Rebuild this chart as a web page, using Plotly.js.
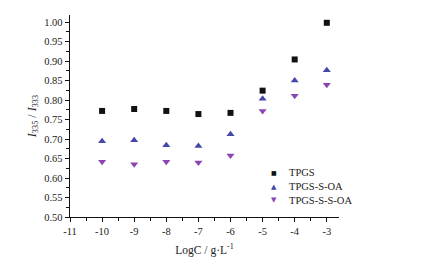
<!DOCTYPE html>
<html><head><meta charset="utf-8">
<script src="https://cdn.plot.ly/plotly-3.0.1.min.js"></script>
<style>html,body{margin:0;padding:0;background:#fff}#chart{width:429px;height:261px}</style>
</head><body><div id="chart"></div>
<script>
const logC = [-10, -9, -8, -7, -6, -5, -4, -3];
const tpgs = [0.772, 0.777, 0.772, 0.764, 0.767, 0.824, 0.904, 0.998];
const tpgsSOA = [0.694, 0.697, 0.684, 0.682, 0.712, 0.803, 0.850, 0.876];
const tpgsSSOA = [0.642, 0.635, 0.642, 0.640, 0.658, 0.772, 0.811, 0.839];
const names = ['TPGS', 'TPGS-S-OA', 'TPGS-S-S-OA'];
const xTicks = [-11, -10, -9, -8, -7, -6, -5, -4, -3];
const yTicks = [0.50, 0.55, 0.60, 0.65, 0.70, 0.75, 0.80, 0.85, 0.90, 0.95, 1.00];

const colors = ['#111', '#4446a8', '#8a44b4'];
const glyphs = ['■', '▲', '▼'];
const serif = '"Liberation Serif", "Times New Roman", serif';
const font = {family: serif, color: '#222', size: 10.5};
const traces = [
  {x: logC, y: tpgs, name: names[0], mode: 'markers', type: 'scatter',
   marker: {symbol: 'square', size: 6, color: colors[0]}},
  {x: logC, y: tpgsSOA, name: names[1], mode: 'markers', type: 'scatter',
   marker: {symbol: 'triangle-up', size: 7, color: colors[1]}},
  {x: logC, y: tpgsSSOA, name: names[2], mode: 'markers', type: 'scatter',
   marker: {symbol: 'triangle-down', size: 7, color: colors[2]}}
];
const legY = [0.218, 0.150, 0.084];
const annotations = [];
names.forEach((n, i) => {
  annotations.push({xref: 'paper', yref: 'paper', x: 0.758, y: legY[i], xanchor: 'center', yanchor: 'middle',
    text: glyphs[i], showarrow: false, font: {family: 'DejaVu Sans', size: i === 0 ? 6 : 7, color: colors[i]}});
  annotations.push({xref: 'paper', yref: 'paper', x: 0.808, y: legY[i], xanchor: 'left', yanchor: 'middle',
    text: n, showarrow: false, font: {family: serif, size: 10.5, color: '#222'}});
});
const layout = {
  width: 429, height: 261,
  margin: {l: 70, r: 90, t: 15, b: 44},
  paper_bgcolor: '#fff', plot_bgcolor: '#fff',
  font: font,
  showlegend: false,
  annotations: annotations,
  xaxis: {
    range: [-11, -2.62], tickvals: xTicks, ticktext: xTicks.map(String),
    showgrid: false, zeroline: false, showline: true, linecolor: '#111', linewidth: 1.3,
    ticks: 'outside', ticklen: 4, tickcolor: '#111',
    minor: {dtick: 0.5, tick0: -11, ticks: 'outside', ticklen: 2.5, tickcolor: '#111'},
    tickfont: {family: serif, size: 10.5, color: '#222'},
    title: {text: 'LogC / g·L<sup>-1</sup>', font: {family: serif, size: 11.5, color: '#222'}, standoff: 10}
  },
  yaxis: {
    range: [0.5, 1.018], tickvals: yTicks, ticktext: yTicks.map(v => v.toFixed(2)),
    showgrid: false, zeroline: false, showline: true, linecolor: '#111', linewidth: 1.3,
    ticks: 'outside', ticklen: 4, tickcolor: '#111',
    minor: {dtick: 0.025, tick0: 0.5, ticks: 'outside', ticklen: 2.5, tickcolor: '#111'},
    tickfont: {family: serif, size: 10.5, color: '#222'},
    title: {text: '<i>I</i><sub>335</sub> / <i>I</i><sub>333</sub>', font: {family: serif, size: 12, color: '#222'}, standoff: 5}
  }
};
Plotly.newPlot('chart', traces, layout, {staticPlot: true, displayModeBar: false});
</script></body></html>
